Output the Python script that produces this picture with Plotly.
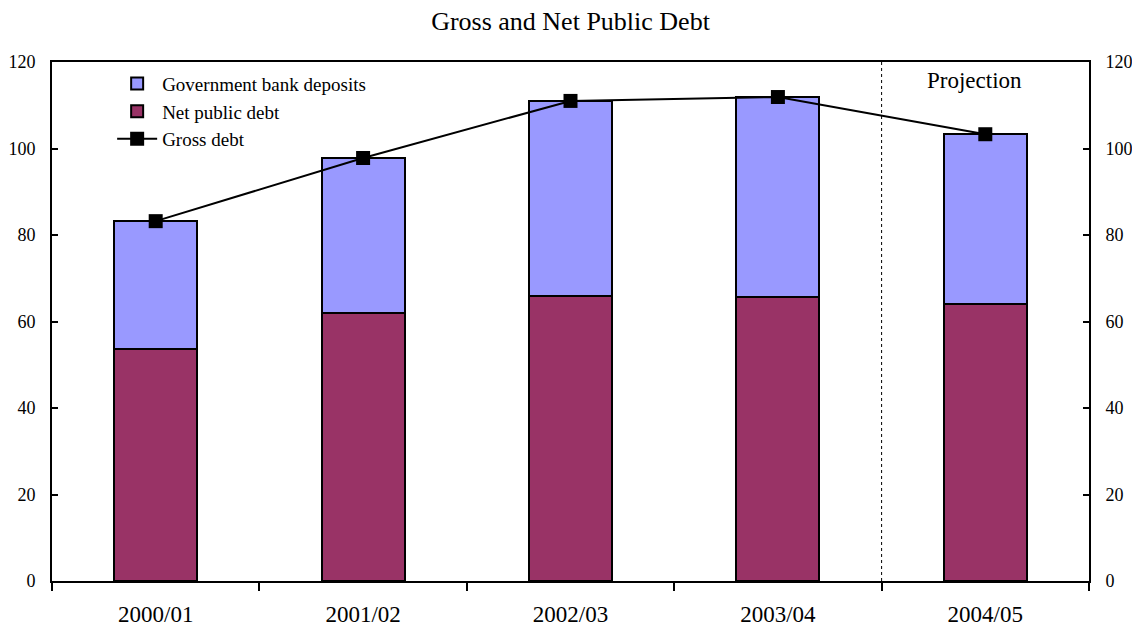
import plotly.graph_objects as go

categories = ["2000/01", "2001/02", "2002/03", "2003/04", "2004/05"]
net_debt = [53.6, 62.0, 65.9, 65.7, 64.0]
gross_debt = [83.2, 97.8, 111.0, 111.9, 103.3]
deposits = [g - n for g, n in zip(gross_debt, net_debt)]
y_ticks = [0, 20, 40, 60, 80, 100, 120]

FONT = "Liberation Serif"

fig = go.Figure()
fig.add_trace(go.Bar(x=categories, y=net_debt, name="Net public debt",
                     marker=dict(color="#993366", line=dict(color="black", width=2)),
                     legendrank=2))
fig.add_trace(go.Bar(x=categories, y=deposits, name="Government bank deposits",
                     marker=dict(color="#9999FF", line=dict(color="black", width=2)),
                     legendrank=1))
fig.add_trace(go.Scatter(x=categories, y=gross_debt, name="Gross debt", mode="lines+markers",
                         line=dict(color="black", width=2),
                         marker=dict(symbol="square", size=14, color="black"),
                         legendrank=3))
fig.add_trace(go.Scatter(x=categories, y=gross_debt, yaxis="y2", showlegend=False,
                         mode="markers", marker=dict(opacity=0), hoverinfo="skip"))

fig.add_shape(type="line", xref="x", yref="paper", x0=3.5, x1=3.5, y0=0, y1=1,
              line=dict(color="black", width=1, dash="dot"))
fig.add_annotation(x=4, y=1, xref="x", yref="paper", yanchor="middle", yshift=-18, xshift=-11,
                   text="Projection", showarrow=False, font=dict(family=FONT, size=23, color="black"))

fig.update_layout(
    width=1132, height=621,
    paper_bgcolor="white", plot_bgcolor="white",
    barmode="stack", bargap=0.6,
    margin=dict(l=44, r=51, t=54, b=48, autoexpand=False),
    title=dict(text="Gross and Net Public Debt", x=(44 + 1037 / 2) / 1132, xanchor="center",
               y=1 - 13 / 621, yanchor="middle",
               font=dict(family=FONT, size=26, color="black")),
    font=dict(family=FONT, color="black"),
    showlegend=True,
    legend=dict(x=0.058, y=0.995, xanchor="left", yanchor="top", bgcolor="rgba(0,0,0,0)",
                traceorder="normal",
                font=dict(family=FONT, size=19, color="black"), tracegroupgap=0, itemwidth=40),
    xaxis=dict(type="category", tickson="boundaries", ticks="outside", ticklen=8, tickwidth=1.5,
               tickcolor="black", showline=True, linecolor="black", linewidth=2, mirror=True,
               showgrid=False, tickfont=dict(family=FONT, size=23, color="black"),
               ticklabelstandoff=11, range=[-0.5, 4.5], automargin=False),
    yaxis=dict(range=[0, 120], tickvals=y_ticks, ticks="inside", ticklen=6, tickwidth=1.5,
               tickcolor="black", ticklabelstandoff=11,
               showline=True, linecolor="black", linewidth=2, showgrid=False, zeroline=False,
               tickfont=dict(family=FONT, size=18, color="black"), automargin=False),
    yaxis2=dict(range=[0, 120], tickvals=y_ticks, overlaying="y", side="right", ticks="inside",
                ticklen=6, tickwidth=1.5, tickcolor="black", ticklabelstandoff=11,
                showline=True, linecolor="black", linewidth=2,
                showgrid=False, zeroline=False, tickfont=dict(family=FONT, size=18, color="black"),
                automargin=False),
)

fig.write_html("out.html")
